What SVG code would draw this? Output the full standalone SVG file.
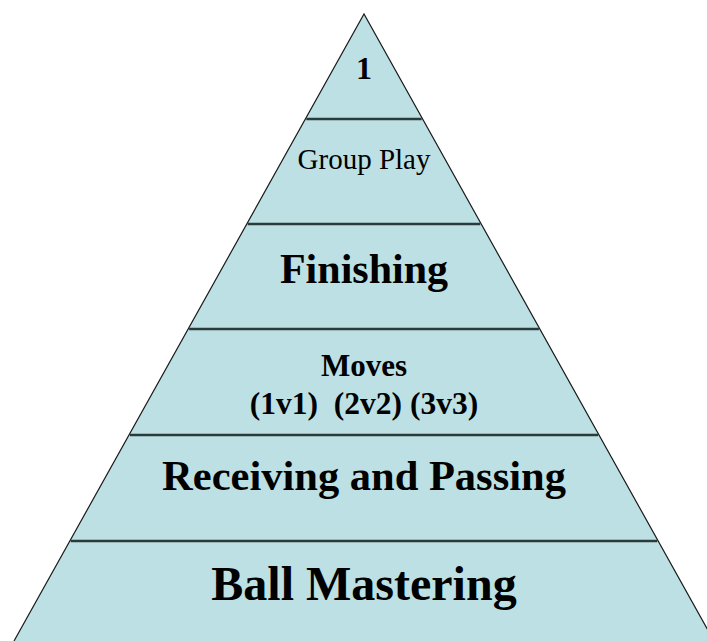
<svg xmlns="http://www.w3.org/2000/svg" width="707" height="641" viewBox="0 0 707 641">
<style>
.tier{fill:#bce0e3;stroke:none}
.edge{fill:none;stroke:#1a1a1a;stroke-width:1.2}
.div{stroke:#2b3b3b;stroke-width:2.5}
.t{font-family:"Liberation Serif","Times New Roman",serif;fill:#000;text-anchor:middle}
.b{font-weight:bold}
</style>
<rect width="707" height="641" fill="#fff"/>
<g id="pyramid">
<polygon class="tier" points="364,14 14,641 714,641"/>
<polyline class="edge" points="14,641 364,14 714,641"/>
</g>
<g id="connectors">
<line class="div" x1="306.3" y1="119" x2="421.7" y2="119"/>
<line class="div" x1="247.7" y1="224" x2="480.3" y2="224"/>
<line class="div" x1="189.1" y1="329" x2="538.9" y2="329"/>
<line class="div" x1="129.9" y1="435" x2="598.1" y2="435"/>
<line class="div" x1="70.7" y1="541" x2="657.3" y2="541"/>
</g>
<g id="tier1"><text class="t b" x="364" y="79" font-size="32">1</text></g>
<g id="tier2"><text class="t" x="364" y="169" font-size="29">Group Play</text></g>
<g id="tier3"><text class="t b" x="364" y="283" font-size="42">Finishing</text></g>
<g id="tier4"><text class="t b" x="364" y="376" font-size="31">Moves</text><text class="t b" x="364" y="414" font-size="31.5" xml:space="preserve">(1v1)  (2v2) (3v3)</text></g>
<g id="tier5"><text class="t b" x="364" y="490" font-size="42.5">Receiving and Passing</text></g>
<g id="tier6"><text class="t b" x="364" y="600" font-size="48">Ball Mastering</text></g>
</svg>
